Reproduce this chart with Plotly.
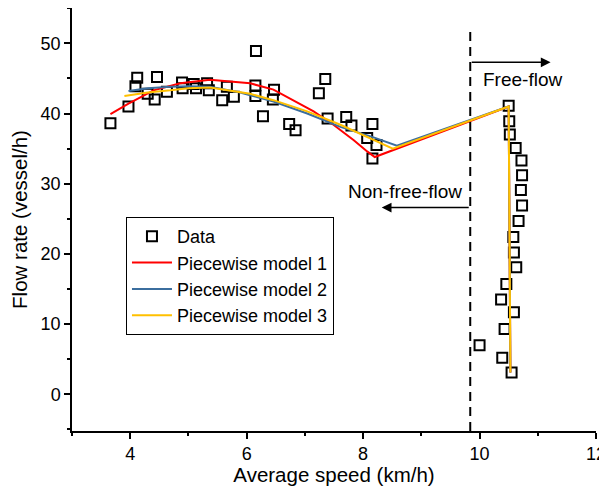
import plotly.graph_objects as go

# Data points (average speed km/h, flow rate vessel/h)
data_x = [3.66, 3.97, 4.12, 4.09, 4.30, 4.42, 4.46, 4.63, 4.89, 4.90, 5.09, 5.13, 5.32, 5.35,
          5.58, 5.66, 5.78, 6.16, 6.15, 6.15, 6.47, 6.45, 6.28, 6.73, 6.84, 7.24, 7.35, 7.39,
          7.71, 7.80, 8.16, 8.07, 8.23, 8.16,
          10.50, 10.51, 10.52, 10.62, 10.72, 10.73, 10.71, 10.73, 10.67, 10.58, 10.59, 10.63,
          10.46, 10.37, 10.59, 10.43, 10.00, 10.39, 10.55]
data_y = [38.6, 41.0, 45.1, 43.9, 42.8, 42.0, 45.2, 43.1, 44.4, 43.6, 44.2, 43.6, 44.3, 43.3,
          41.9, 43.8, 42.4, 48.9, 44.0, 42.5, 43.4, 42.0, 39.6, 38.5, 37.6, 42.9, 44.9, 39.3,
          39.5, 38.3, 38.5, 36.5, 35.5, 33.6,
          41.1, 38.9, 37.0, 35.1, 33.3, 31.2, 29.1, 26.9, 24.7, 22.4, 20.2, 18.1,
          15.7, 13.5, 11.7, 9.3, 7.0, 5.2, 3.1]

# Piecewise model curves
m1_x = [3.66, 3.97, 4.40, 4.86, 5.37, 5.89, 6.06, 6.46, 6.81, 7.15, 7.49, 7.84, 8.07, 8.20, 10.50, 10.53]
m1_y = [39.9, 41.4, 43.3, 44.3, 44.8, 44.5, 44.3, 43.4, 41.8, 40.3, 38.4, 36.2, 34.6, 33.8, 41.0, 3.1]

m2_x = [3.97, 4.30, 4.69, 5.00, 5.37, 5.89, 6.06, 6.46, 7.04, 7.61, 8.18, 8.58, 10.50, 10.53]
m2_y = [43.2, 43.6, 43.8, 43.9, 43.8, 43.0, 42.6, 41.7, 40.0, 38.1, 36.6, 35.4, 41.0, 3.1]

m3_x = [3.90, 4.30, 4.69, 5.00, 5.37, 5.89, 6.06, 6.46, 7.04, 7.61, 8.18, 8.51, 10.50, 10.53]
m3_y = [42.5, 43.0, 43.3, 43.6, 43.7, 43.1, 42.8, 41.9, 40.3, 38.4, 36.2, 35.0, 41.0, 3.1]

boundary_x = 9.84
x_ticks = [4, 6, 8, 10, 12]
y_ticks = [0, 10, 20, 30, 40, 50]

FONT = "Liberation Sans, Arial, sans-serif"

fig = go.Figure()
fig.add_trace(go.Scatter(x=data_x, y=data_y, mode="markers", name="Data",
                         marker=dict(symbol="square-open", size=10, color="black",
                                     line=dict(width=2, color="black"))))
fig.add_trace(go.Scatter(x=m1_x, y=m1_y, mode="lines", name="Piecewise model 1",
                         line=dict(color="#FF0000", width=2)))
fig.add_trace(go.Scatter(x=m2_x, y=m2_y, mode="lines", name="Piecewise model 2",
                         line=dict(color="#3B6E9E", width=2)))
fig.add_trace(go.Scatter(x=m3_x, y=m3_y, mode="lines", name="Piecewise model 3",
                         line=dict(color="#FFC000", width=2)))

# dashed boundary
fig.add_shape(type="line", x0=boundary_x, x1=boundary_x, y0=-5.23, y1=51.6,
              xref="x", yref="y", line=dict(color="black", width=2, dash="9px,6px"))

# arrows
fig.add_annotation(x=11.22, y=47.3, ax=boundary_x, ay=47.3, xref="x", yref="y",
                   axref="x", ayref="y", showarrow=True, arrowhead=2, arrowsize=1.3,
                   arrowwidth=1.5, arrowcolor="black", text="")
fig.add_annotation(x=8.32, y=26.6, ax=boundary_x, ay=26.6, xref="x", yref="y",
                   axref="x", ayref="y", showarrow=True, arrowhead=2, arrowsize=1.3,
                   arrowwidth=1.5, arrowcolor="black", text="")
fig.add_annotation(x=10.02, y=44.8, text="Free-flow", showarrow=False, xanchor="left",
                   yanchor="middle", font=dict(family=FONT, size=19, color="black"))
fig.add_annotation(x=8.72, y=28.9, text="Non-free-flow", showarrow=False, xanchor="center",
                   yanchor="middle", font=dict(family=FONT, size=19, color="black"))

fig.update_layout(
    width=599, height=478,
    margin=dict(l=64, r=11, t=0, b=55),
    paper_bgcolor="white", plot_bgcolor="white",
    font=dict(family=FONT, size=18, color="black"),
    showlegend=True,
    legend=dict(x=0.103, y=0.506, xanchor="left", yanchor="top",
                bordercolor="black", borderwidth=1, bgcolor="white",
                font=dict(family=FONT, size=18, color="black"),
                itemwidth=40, tracegroupgap=0),
    xaxis=dict(range=[3, 12], tickvals=x_ticks, ticktext=[str(v) for v in x_ticks],
               automargin=False, ticklabeloverflow="allow",
               showgrid=False, zeroline=False, showline=True, linecolor="black", linewidth=1.5,
               ticks="outside", ticklen=6, tickwidth=1.5, tickcolor="black",
               minor=dict(dtick=1, tick0=3, ticks="outside", ticklen=3, tickwidth=1.5, tickcolor="black"),
               title=dict(text="Average speed (km/h)", font=dict(size=20.5), standoff=6),
               tickfont=dict(size=18)),
    yaxis=dict(range=[-5.23, 55.03], tickvals=y_ticks, ticktext=[str(v) for v in y_ticks],
               automargin=False,
               showgrid=False, zeroline=False, showline=True, linecolor="black", linewidth=1.5,
               ticks="outside", ticklen=6, tickwidth=1.5, tickcolor="black",
               minor=dict(dtick=5, tick0=-5, ticks="outside", ticklen=3, tickwidth=1.5, tickcolor="black"),
               title=dict(text="Flow rate (vessel/h)", font=dict(size=20.5), standoff=8),
               tickfont=dict(size=18)),
)

fig.write_html("out.html")
